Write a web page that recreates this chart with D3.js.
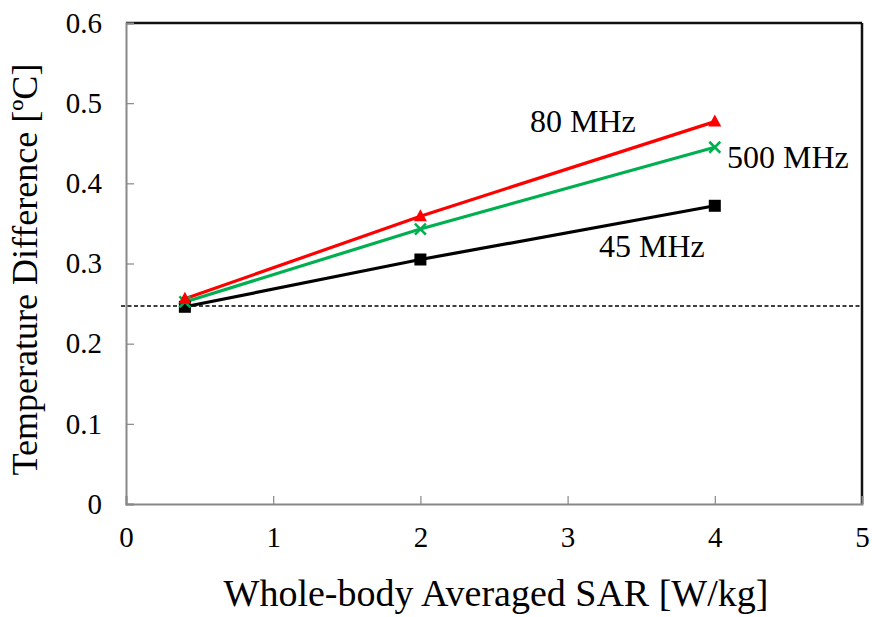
<!DOCTYPE html>
<html>
<head>
<meta charset="utf-8">
<script src="https://cdn.jsdelivr.net/npm/d3@7"></script>
<style>
  body { margin: 0; background: #fff; }
  svg { display: block; }
</style>
</head>
<body>
<svg id="chart" width="872" height="617"></svg>
<script>
const sarValues = [0.4, 2, 4];
const series45 = [0.246, 0.305, 0.372];
const series80 = [0.256, 0.359, 0.477];
const series500 = [0.252, 0.343, 0.445];
const seriesNames = ["45 MHz", "80 MHz", "500 MHz"];
const seriesColors = ["#000000", "#ff0000", "#00b050"];
const referenceLevel = 0.247;
const xTicks = [0, 1, 2, 3, 4, 5];
const yTicks = [0, 0.1, 0.2, 0.3, 0.4, 0.5, 0.6];
const xTitle = "Whole-body Averaged SAR [W/kg]";
const yTitle = "Temperature Difference [ºC]";

(function () {
const FONT = "'Liberation Serif'";
const svg = d3.select("#chart");
const pLeft = 126, pRight = 862, pTop = 23, pBottom = 504;
const x = d3.scaleLinear().domain([0, 5]).range([pLeft, pRight]);
const y = d3.scaleLinear().domain([0, 0.6]).range([pBottom, pTop]);

// frame
svg.append("line").attr("x1", pLeft).attr("x2", pRight).attr("y1", pTop).attr("y2", pTop)
  .attr("stroke", "#111").attr("stroke-width", 2.5);
svg.append("line").attr("x1", pRight).attr("x2", pRight).attr("y1", pTop).attr("y2", pBottom)
  .attr("stroke", "#111").attr("stroke-width", 2.5);

// y axis
const yAxis = svg.append("g").attr("transform", `translate(${pLeft},0)`)
  .call(d3.axisLeft(y).tickValues(yTicks).tickSize(-8).tickPadding(24)
    .tickFormat(d => d === 0 ? "0" : d3.format(".1f")(d)));
yAxis.attr("font-family", null).attr("font-size", null);
yAxis.select(".domain").attr("stroke", "#888").attr("stroke-width", 2);
yAxis.selectAll(".tick line").attr("stroke", "#888").attr("stroke-width", 1.2);
yAxis.selectAll(".tick text").style("font-family", FONT).style("font-size", "29px").attr("fill", "#000");

// x axis
const xAxis = svg.append("g").attr("transform", `translate(0,${pBottom})`)
  .call(d3.axisBottom(x).tickValues(xTicks).tickSize(-8).tickPadding(22)
    .tickFormat(d3.format("d")));
xAxis.attr("font-family", null).attr("font-size", null);
xAxis.select(".domain").attr("stroke", "#888").attr("stroke-width", 2);
xAxis.selectAll(".tick line").attr("stroke", "#888").attr("stroke-width", 1.2);
xAxis.selectAll(".tick text").style("font-family", FONT).style("font-size", "29px").attr("fill", "#000");

// reference dashed line
svg.append("line")
  .attr("x1", pLeft - 5).attr("x2", pRight)
  .attr("y1", y(referenceLevel)).attr("y2", y(referenceLevel))
  .attr("stroke", "#000").attr("stroke-width", 1.5).attr("stroke-dasharray", "4,2.5");

const allSeries = [series45, series80, series500];
const line = d3.line().x((d, i) => x(sarValues[i])).y(d => y(d));

const order = [0, 2, 1];
order.forEach(k => {
  svg.append("path").datum(allSeries[k])
    .attr("d", line).attr("fill", "none")
    .attr("stroke", seriesColors[k]).attr("stroke-width", 3.2);
});

// 45 MHz squares
svg.selectAll(".sq").data(series45).enter().append("rect")
  .attr("x", (d, i) => x(sarValues[i]) - 6).attr("y", d => y(d) - 6)
  .attr("width", 12).attr("height", 12).attr("fill", seriesColors[0]);
// 500 MHz crosses
svg.selectAll(".cx").data(series500).enter().append("path")
  .attr("transform", (d, i) => `translate(${x(sarValues[i])},${y(d)})`)
  .attr("d", "M-5.5,-5.5L5.5,5.5M-5.5,5.5L5.5,-5.5")
  .attr("stroke", seriesColors[2]).attr("stroke-width", 2.5).attr("fill", "none");
// 80 MHz triangles
svg.selectAll(".tr").data(series80).enter().append("path")
  .attr("transform", (d, i) => `translate(${x(sarValues[i])},${y(d)})`)
  .attr("d", "M0,-7L6.5,5L-6.5,5Z")
  .attr("fill", seriesColors[1]);

// series labels
const labelPos = [
  { x: 599, y: 257 },
  { x: 530, y: 132 },
  { x: 727, y: 168 }
];
seriesNames.forEach((n, k) => {
  svg.append("text").attr("x", labelPos[k].x).attr("y", labelPos[k].y)
    .style("font-family", FONT).style("font-size", "32px").attr("fill", "#000").text(n);
});

// axis titles
svg.append("text").attr("x", 496).attr("y", 606)
  .attr("text-anchor", "middle")
  .style("font-family", FONT).style("font-size", "38px").attr("fill", "#000").text(xTitle);
svg.append("text")
  .attr("transform", `translate(37,${(pTop + pBottom) / 2 + 6}) rotate(-90)`)
  .attr("text-anchor", "middle")
  .style("font-family", FONT).style("font-size", "36px").attr("fill", "#000").text(yTitle);
})();
</script>
</body>
</html>
